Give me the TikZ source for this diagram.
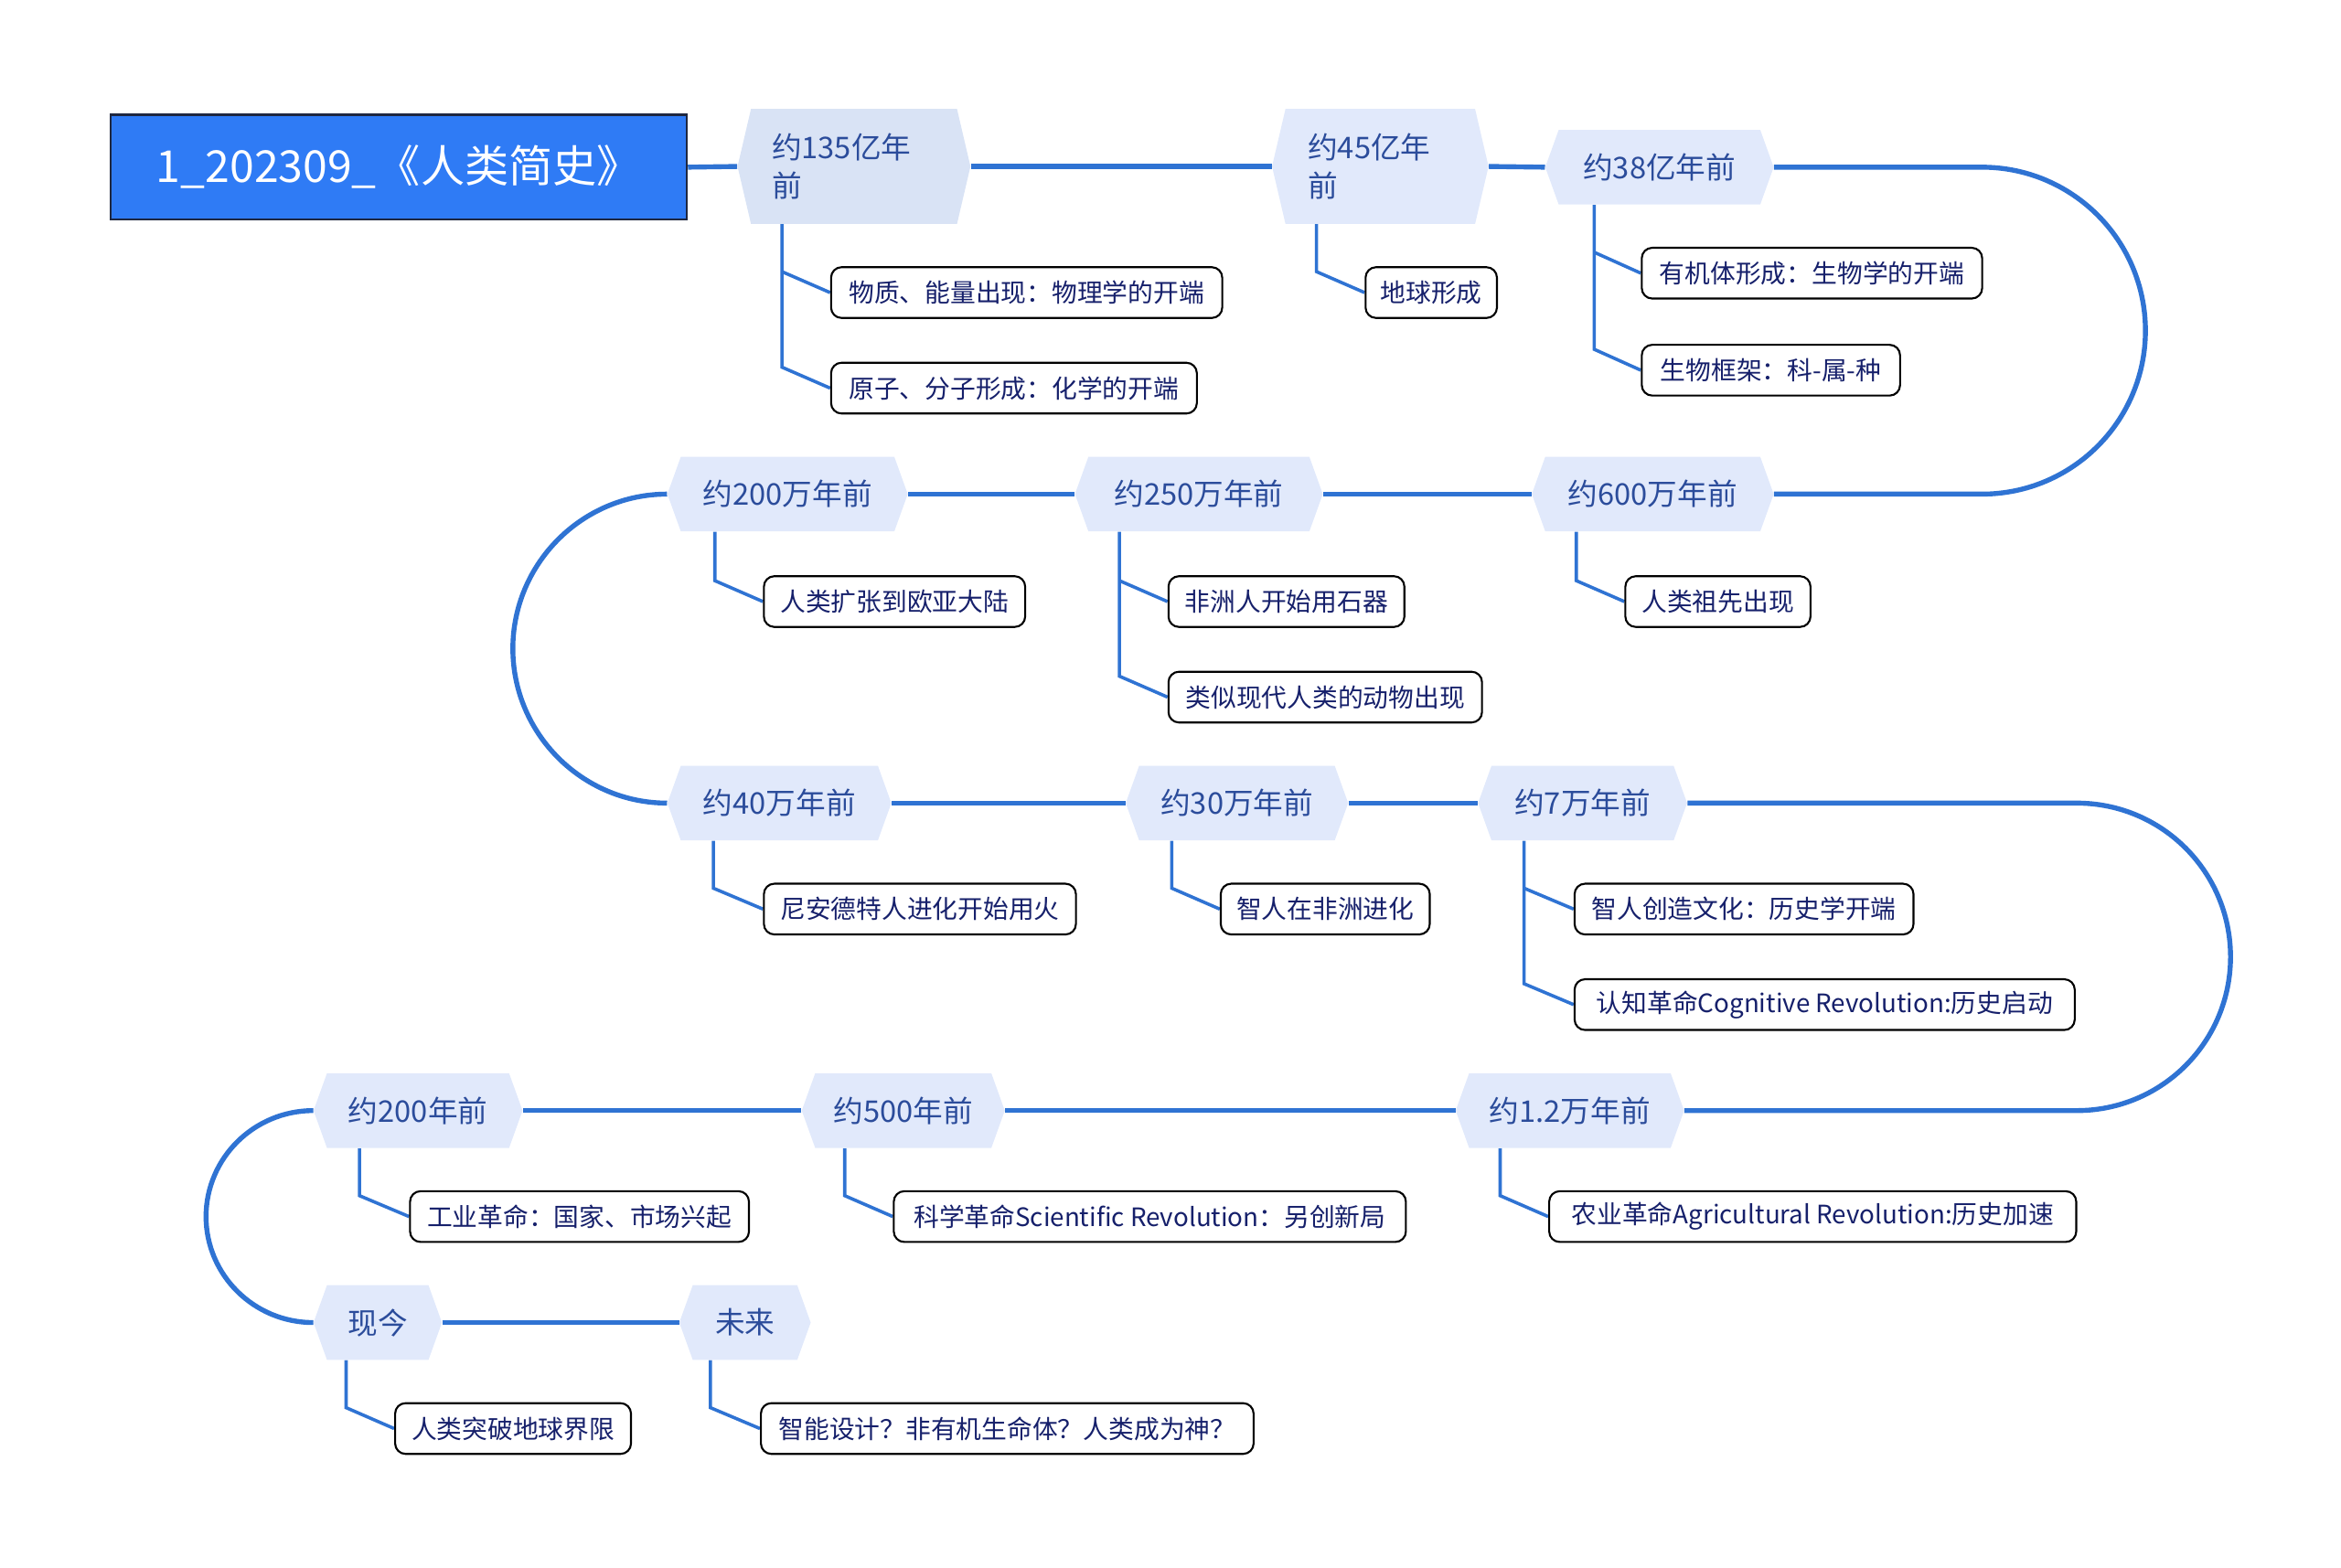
\documentclass[tikz,border=0pt]{standalone}
\usepackage{fontspec}
\setmainfont{Noto Sans CJK SC}
\usetikzlibrary{calc}
\pgfdeclarelayer{background}
\pgfsetlayers{background,main}
\definecolor{mainline}{HTML}{2F73D3}
\definecolor{hexfill}{HTML}{E1E9FB}
\definecolor{hexfillA}{HTML}{D9E3F5}
\definecolor{hextext}{HTML}{2B4C9B}
\definecolor{childtext}{HTML}{16206B}
\definecolor{rootfill}{HTML}{2F7BF5}
\definecolor{rootborder}{HTML}{1E2740}
\begin{document}
\begin{tikzpicture}[x=1pt,y=-1pt,
  rootbox/.style={draw=rootborder, line width=1.5pt, fill=rootfill, text=white,
    minimum width=386pt, minimum height=70pt, inner sep=0pt,
    font=\fontsize{29.5}{33}\selectfont},
  hexn/.style={minimum height=50pt, inner sep=0pt, text=hextext,
    font=\fontsize{20}{26}\selectfont,
    path picture={\fill[#1]
      (path picture bounding box.west)
      -- ([xshift=9pt]path picture bounding box.north west)
      -- ([xshift=-9pt]path picture bounding box.north east)
      -- (path picture bounding box.east)
      -- ([xshift=-9pt]path picture bounding box.south east)
      -- ([xshift=9pt]path picture bounding box.south west) -- cycle;}},
  hexn/.default=hexfill,
  kid/.style={draw=black, line width=1.3pt, rounded corners=7pt, fill=white,
    text=childtext, font=\fontsize{17}{20}\selectfont,
    minimum height=34pt, inner xsep=10pt, inner ysep=0pt, anchor=west},
  mainln/.style={draw=mainline, line width=3.3pt},
  sub/.style={draw=mainline, line width=2.2pt}
]
\useasboundingbox (0,0) rectangle (1568,1050);

% root
\node[rootbox] (root) at (267,112) {1\_202309\_《人类简史》};

% timeline nodes
\node[hexn=hexfillA, minimum width=156pt, minimum height=77pt, text width=110pt, align=left] (h1) at (572,111.5) {约135亿年\\前};
\node[hexn, minimum width=145pt, minimum height=77pt, text width=97pt, align=left] (h2) at (924.5,111.5) {约45亿年\\前};
\node[hexn, minimum width=153pt] (h3) at (1111.5,112) {约38亿年前};
\node[hexn, minimum width=162pt] (h600) at (1107,331) {约600万年前};
\node[hexn, minimum width=166pt] (h250) at (803,331) {约250万年前};
\node[hexn, minimum width=161pt] (h200) at (527.5,331) {约200万年前};
\node[hexn, minimum width=150pt] (h40) at (522,538) {约40万年前};
\node[hexn, minimum width=149pt] (h30) at (828.5,538) {约30万年前};
\node[hexn, minimum width=140pt] (h7) at (1060,538) {约7万年前};
\node[hexn, minimum width=153pt] (h12) at (1051.5,744) {约1.2万年前};
\node[hexn, minimum width=136pt] (h500) at (605,744) {约500年前};
\node[hexn, minimum width=140pt] (h200y) at (280,744) {约200年前};
\node[hexn, minimum width=86pt] (now) at (253,886) {现今};
\node[hexn, minimum width=88pt] (fut) at (499,886) {未来};

% children
\node[kid, minimum width=262pt] (c1a) at (556,196) {物质、能量出现：物理学的开端};
\node[kid, minimum width=245pt] (c1b) at (556,260) {原子、分子形成：化学的开端};
\node[kid, minimum width=88pt] (c2) at (914,196) {地球形成};
\node[kid, minimum width=228pt] (c3a) at (1099,183) {有机体形成：生物学的开端};
\node[kid, minimum width=173pt] (c3b) at (1099,248) {生物框架：科-属-种};
\node[kid, minimum width=124pt] (c600) at (1088,403) {人类祖先出现};
\node[kid, minimum width=158pt] (c250a) at (782,403) {非洲人开始用石器};
\node[kid, minimum width=210pt] (c250b) at (782,467) {类似现代人类的动物出现};
\node[kid, minimum width=175pt] (c200) at (511,403) {人类扩张到欧亚大陆};
\node[kid, minimum width=209pt] (c40) at (511,609) {尼安德特人进化开始用火};
\node[kid, minimum width=140pt] (c30) at (817,609) {智人在非洲进化};
\node[kid, minimum width=227pt] (c7a) at (1054,609) {智人创造文化：历史学开端};
\node[kid, minimum width=335pt] (c7b) at (1054,673) {认知革命Cognitive Revolution:历史启动};
\node[kid, minimum width=353pt] (c12) at (1037,815) {农业革命Agricultural Revolution:历史加速};
\node[kid, minimum width=343pt] (c500) at (598,815) {科学革命Scientific Revolution：另创新局};
\node[kid, minimum width=227pt] (c200y) at (274,815) {工业革命：国家、市场兴起};
\node[kid, minimum width=158pt] (cnow) at (264,957) {人类突破地球界限};
\node[kid, minimum width=330pt] (cfut) at (509,957) {智能设计？非有机生命体？人类成为神？};

\begin{pgfonlayer}{background}
% main timeline
\draw[mainln] (root.east) -- (h1.west);
\draw[mainln] (h1.east) -- (h2.west);
\draw[mainln] (h2.east) -- (h3.west);
\draw[mainln] (h3.east) -- (1327.5,112) .. controls (1388,112) and (1437,161) .. (1437,221.5)
  .. controls (1437,282) and (1388,331) .. (1327.5,331) -- (h600.east);
\draw[mainln] (h600.west) -- (h250.east);
\draw[mainln] (h250.west) -- (h200.east);
\draw[mainln] (h200.west) .. controls (390,331) and (343.5,377.5) .. (343.5,434.5)
  .. controls (343.5,491.5) and (390,538) .. (h40.west);
\draw[mainln] (h40.east) -- (h30.west);
\draw[mainln] (h30.east) -- (h7.west);
\draw[mainln] (h7.east) -- (1391,538) .. controls (1448,538) and (1494,584) .. (1494,641)
  .. controls (1494,698) and (1448,744) .. (1391,744) -- (h12.east);
\draw[mainln] (h12.west) -- (h500.east);
\draw[mainln] (h500.west) -- (h200y.east);
\draw[mainln] (h200y.west) .. controls (170,744) and (138,776) .. (138,815)
  .. controls (138,854) and (170,886) .. (now.west);
\draw[mainln] (now.east) -- (fut.west);

% sub connectors
\draw[sub] ([xshift=30pt]h1.south west) -- ([xshift=30pt,yshift=14pt]h1.south west |- c1b.west) -- (c1b.west);
\draw[sub] ([xshift=30pt,yshift=14pt]h1.south west |- c1a.west) -- (c1a.west);
\draw[sub] ([xshift=30pt]h2.south west) -- ([xshift=30pt,yshift=14pt]h2.south west |- c2.west) -- (c2.west);
\draw[sub] ([xshift=33pt]h3.south west) -- ([xshift=33pt,yshift=14pt]h3.south west |- c3b.west) -- (c3b.west);
\draw[sub] ([xshift=33pt,yshift=14pt]h3.south west |- c3a.west) -- (c3a.west);
\draw[sub] ([xshift=30pt]h600.south west) -- ([xshift=30pt,yshift=14pt]h600.south west |- c600.west) -- (c600.west);
\draw[sub] ([xshift=30pt]h250.south west) -- ([xshift=30pt,yshift=14pt]h250.south west |- c250b.west) -- (c250b.west);
\draw[sub] ([xshift=30pt,yshift=14pt]h250.south west |- c250a.west) -- (c250a.west);
\draw[sub] ([xshift=32pt]h200.south west) -- ([xshift=32pt,yshift=14pt]h200.south west |- c200.west) -- (c200.west);
\draw[sub] ([xshift=31pt]h40.south west) -- ([xshift=31pt,yshift=14pt]h40.south west |- c40.west) -- (c40.west);
\draw[sub] ([xshift=31pt]h30.south west) -- ([xshift=31pt,yshift=14pt]h30.south west |- c30.west) -- (c30.west);
\draw[sub] ([xshift=31pt]h7.south west) -- ([xshift=31pt,yshift=14pt]h7.south west |- c7b.west) -- (c7b.west);
\draw[sub] ([xshift=31pt,yshift=14pt]h7.south west |- c7a.west) -- (c7a.west);
\draw[sub] ([xshift=30pt]h12.south west) -- ([xshift=30pt,yshift=14pt]h12.south west |- c12.west) -- (c12.west);
\draw[sub] ([xshift=29pt]h500.south west) -- ([xshift=29pt,yshift=14pt]h500.south west |- c500.west) -- (c500.west);
\draw[sub] ([xshift=31pt]h200y.south west) -- ([xshift=31pt,yshift=14pt]h200y.south west |- c200y.west) -- (c200y.west);
\draw[sub] ([xshift=22pt]now.south west) -- ([xshift=22pt,yshift=14pt]now.south west |- cnow.west) -- (cnow.west);
\draw[sub] ([xshift=21pt]fut.south west) -- ([xshift=21pt,yshift=14pt]fut.south west |- cfut.west) -- (cfut.west);
\end{pgfonlayer}
\end{tikzpicture}
\end{document}
